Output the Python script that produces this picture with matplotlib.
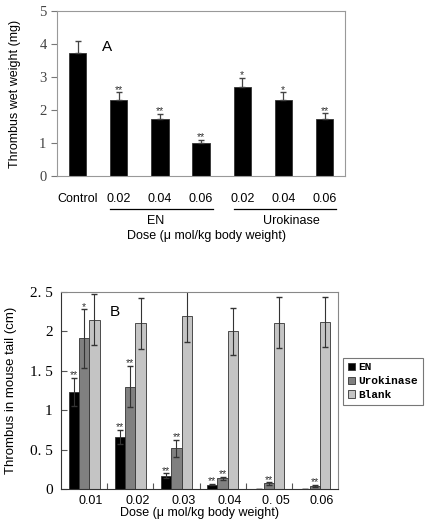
import numpy as np
import matplotlib
matplotlib.use('Agg')
import matplotlib.pyplot as plt

plt.rcParams['font.family'] = ['Liberation Sans', 'DejaVu Sans']

# ---- panel A data ----
a_labels = ['Control', '0.02', '0.04', '0.06', '0.02', '0.04', '0.06']
a_weight = [3.72, 2.30, 1.72, 1.00, 2.70, 2.30, 1.72]
a_err = [0.36, 0.24, 0.17, 0.10, 0.28, 0.24, 0.18]
a_stars = ['', '**', '**', '**', '*', '*', '**']

# ---- panel B data ----
b_doses = ['0.01', '0.02', '0.03', '0.04', '0. 05', '0.06']
b_en = [1.23, 0.66, 0.17, 0.055, 0.0, 0.0]
b_en_err = [0.18, 0.09, 0.03, 0.01, 0.0, 0.0]
b_uro = [1.91, 1.30, 0.515, 0.135, 0.07, 0.04]
b_uro_err = [0.37, 0.26, 0.11, 0.02, 0.015, 0.01]
b_blank = [2.15, 2.10, 2.20, 2.00, 2.11, 2.12]
b_blank_err = [0.32, 0.32, 0.34, 0.30, 0.32, 0.32]
b_en_stars = ['**', '**', '**', '**', '', '']
b_uro_stars = ['*', '**', '**', '**', '**', '**']
b_yticks = [0, 0.5, 1, 1.5, 2, 2.5]
b_ylabels = ['0', '0. 5', '1', '1. 5', '2', '2. 5']

fig = plt.figure(figsize=(4.25, 5.24), dpi=100)

# ================= panel A =================
ax = fig.add_axes([0.134, 0.664, 0.678, 0.315])
xa = np.arange(len(a_weight))
ax.bar(xa, a_weight, width=0.42, color='black', edgecolor='#333333', linewidth=0.6)
ax.errorbar(xa, a_weight, yerr=[np.zeros(len(a_err)), a_err], fmt='none',
            ecolor='#444444', elinewidth=0.9, capsize=2)
for x, v, e, s in zip(xa, a_weight, a_err, a_stars):
    if s:
        ax.text(x, v + e - 0.08, s, ha='center', va='bottom', fontsize=7.5, color='#333333')
ax.set_xlim(-0.5, 6.5)
ax.set_ylim(0, 5)
ax.set_yticks(range(6))
ax.set_yticklabels([str(i) for i in range(6)], family='Liberation Serif',
                   fontsize=10.5, color='#444444')
ax.set_xticks(xa)
ax.set_xticklabels(a_labels, fontsize=9)
ax.tick_params(axis='x', length=0, pad=12)
ax.tick_params(axis='y', direction='out', length=4, color='#777777')
for sp in ax.spines.values():
    sp.set_color('#999999')
ax.set_ylabel('Thrombus wet weight (mg)', fontsize=9, labelpad=13)
ax.text(0.6, 3.8, 'A', fontsize=11)

tr = ax.get_xaxis_transform()
ax.plot([1 - 0.21, 3 + 0.29], [-0.2, -0.2], color='black', lw=0.9, transform=tr, clip_on=False)
ax.plot([4 - 0.21, 6 + 0.29], [-0.2, -0.2], color='black', lw=0.9, transform=tr, clip_on=False)
ax.text(1.9, -0.27, 'EN', ha='center', va='center', fontsize=9, transform=tr)
ax.text(5.2, -0.27, 'Urokinase', ha='center', va='center', fontsize=9, transform=tr)
ax.text(0.52, -0.365, 'Dose (\u03bc mol/kg body weight)', ha='center', va='center',
        fontsize=9, transform=ax.transAxes)

# ================= panel B =================
bx = fig.add_axes([0.1435, 0.0668, 0.652, 0.376])
xb = np.arange(len(b_doses))
w = 0.223
ekw = dict(fmt='none', ecolor='#333333', elinewidth=0.8, capsize=2.5)
series = [
    (b_en, b_en_err, 'black', 'EN', b_en_stars),
    (b_uro, b_uro_err, '#808080', 'Urokinase', b_uro_stars),
    (b_blank, b_blank_err, '#c4c4c4', 'Blank', None),
]
for k, (vals, errs, col, lab, stars) in enumerate(series):
    pos = xb + (k - 1) * w
    bx.bar(pos, vals, width=w, color=col, edgecolor='#333333', linewidth=0.6, label=lab)
    bx.errorbar(pos, vals, yerr=errs, **ekw)
    if stars:
        for x, v, e, s in zip(pos, vals, errs, stars):
            if s:
                bx.text(x, v + e - 0.03, s, ha='center', va='bottom', fontsize=7.5, color='#333333')

bx.set_xlim(-0.5, 5.5)
bx.set_ylim(0, 2.5)
bx.set_yticks(b_yticks)
bx.set_yticklabels(b_ylabels, family='Liberation Serif', fontsize=11)
bx.set_xticks(xb[:-1] + 0.5)
bx.set_xticklabels([])
bx.set_xticks(xb + 0.15, minor=True)
bx.set_xticklabels(b_doses, minor=True, fontsize=9)
bx.tick_params(axis='x', which='major', direction='in', length=4, color='#555555')
bx.tick_params(axis='x', which='minor', length=0, pad=4)
bx.tick_params(axis='y', direction='in', length=4, color='#555555', pad=6)
for sp in bx.spines.values():
    sp.set_color('#888888')
bx.spines['left'].set_color('#333333')
bx.spines['bottom'].set_color('#333333')
bx.set_ylabel('Thrombus in mouse tail (cm)', fontsize=9.5, labelpad=9)
bx.set_xlabel('Dose (\u03bc mol/kg body weight)', fontsize=9, labelpad=0)
bx.text(0.55, 2.2, 'B', fontsize=11)

leg = bx.legend(loc='upper left', bbox_to_anchor=(1.018, 0.665), borderaxespad=0,
                frameon=True, fancybox=False, handlelength=0.7, handleheight=0.7,
                handletextpad=0.3, labelspacing=0.35, borderpad=0.4,
                prop={'family': 'Liberation Mono', 'weight': 'bold', 'size': 8})
leg.get_frame().set_edgecolor('#555555')
leg.get_frame().set_linewidth(0.8)

fig.savefig('out.png', dpi=100)
